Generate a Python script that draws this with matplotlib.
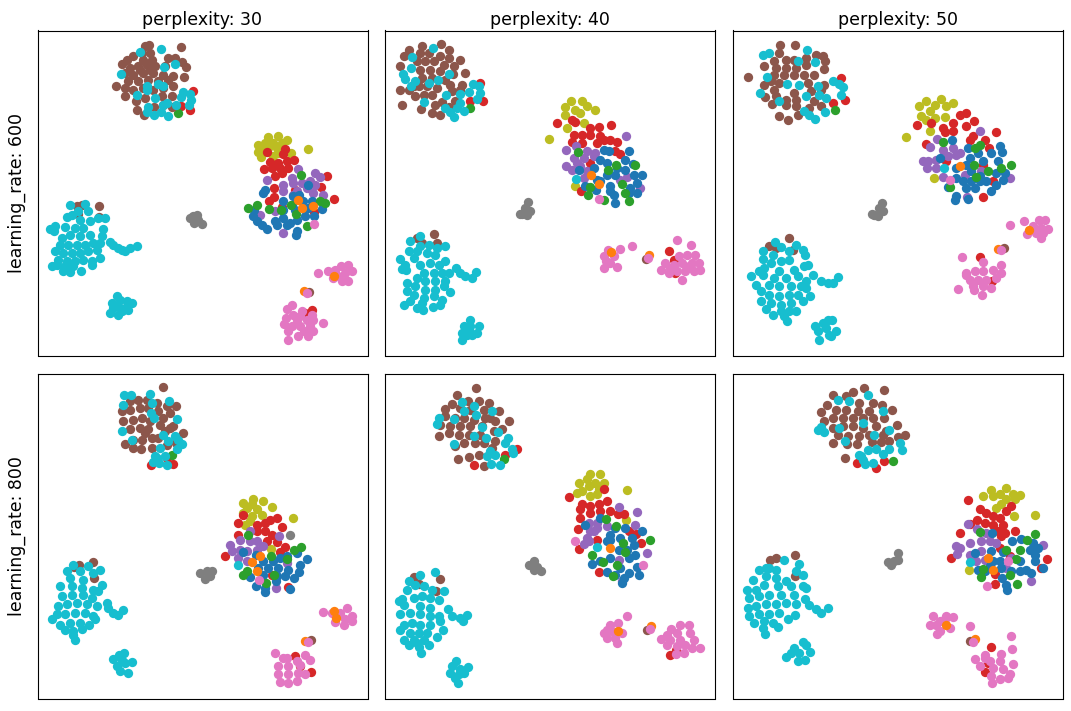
import matplotlib
matplotlib.use('Agg')
import matplotlib.pyplot as plt

# point positions, each panel in its own 0-1000ish frame
perplexities = [30, 40, 50]
learning_rates = [600, 800]

# --- perplexity 30, learning rate 600 ---
p1_olive = [(715,338),(745,335),(772,347),(685,360),(705,355),(730,355),(683,383),(692,397),(715,370),(740,370),(755,355),(782,385),(730,395),(725,405),(835,372),(700,380),(745,385)]
p1_red = [(712,383),(765,373),(758,388),(792,407),(770,410),(745,415),(720,412),(703,432),(725,430),(750,430),(775,430),(735,455),(755,445),(890,455),(873,488),(911,524),(733,491),(731,517),(717,530),(755,548),(852,562),(795,495),(488,198),(480,255),(452,245),(845,855),(825,865)]
p1_purple = [(803,432),(710,465),(855,445),(870,458),(785,460),(760,480),(790,475),(815,475),(840,470),(760,500),(800,500),(830,490),(855,480),(850,505),(878,512),(760,625),(790,510),(735,560),(690,572)]
p1_blue = [(705,495),(700,505),(835,482),(790,515),(808,510),(760,530),(785,540),(820,530),(845,530),(875,552),(672,555),(670,575),(680,590),(695,600),(710,613),(735,590),(760,580),(780,595),(800,585),(825,575),(852,575),(740,600),(770,600),(800,620),(798,630),(760,555),(795,555),(835,550)]
p1_green = [(655,550),(682,540),(717,553),(752,555),(782,540),(812,451),(870,530),(885,535),(832,603),(797,568),(445,265)]
p1_brown = [(452,67),(345,65),(358,62),(335,85),(360,85),(310,95),(290,105),(275,117),(340,105),(365,105),(415,100),(435,100),(455,112),(467,128),(300,130),(325,125),(350,120),(375,125),(405,125),(285,145),(310,150),(340,145),(370,145),(400,150),(430,155),(463,158),(295,170),(325,170),(355,165),(385,170),(415,165),(259,183),(285,190),(310,195),(340,190),(370,195),(400,190),(430,185),(285,215),(318,230),(345,220),(395,215),(425,215),(320,255),(372,248),(342,272),(425,248),(400,240),(330,135),(360,135),(155,540),(140,545),(207,544),(207,578),(145,567),(838,803)]
p1_gray = [(490,575),(500,570),(480,580),(492,595),(515,598),(505,585)]
p1_cyan = [(392,73),(272,148),(403,127),(330,82),(435,118),(350,185),(385,178),(398,183),(322,210),(376,220),(350,195),(460,203),(480,208),(453,218),(482,225),(478,242),(438,240),(410,235),(355,248),(352,262),(372,270),(393,262),(413,275),(398,240),
    (120,540),(165,537),(145,560),(175,560),(110,578),(125,570),(225,580),(205,580),(150,585),(180,590),(75,605),(60,612),(105,607),(135,610),(160,610),(220,612),(72,620),(120,630),(150,635),(180,630),(215,635),(95,640),(240,652),(250,660),(265,670),(285,680),(300,670),(320,665),(275,677),(90,660),(115,660),(140,660),(165,660),(190,655),(210,655),(75,680),(100,685),(125,685),(150,685),(175,680),(200,675),(85,705),(110,710),(135,710),(160,705),(185,710),(211,700),(65,725),(80,720),(98,740),(120,742),(153,738),(185,722),(130,725),(105,725),
    (262,815),(245,835),(270,825),(290,830),(305,835),(240,865),(265,870),(265,845),(285,850),(250,850),(295,855),(275,860)]
p1_pink = [(852,597),(865,744),(893,740),(915,735),(932,725),(955,722),(965,740),(945,745),(925,755),(910,760),(935,768),(955,770),(787,840),(770,852),(815,860),(845,870),(790,870),(768,880),(800,885),(830,885),(850,885),(878,895),(762,897),(785,905),(810,905),(840,905),(775,920),(805,935),(835,935),(775,945),(850,918),(822,920),(810,875)]
p1_orange = [(803,527),(815,550),(848,545),(912,755),(822,798)]
p1_pink_top = [(832,805)]

# --- perplexity 40, learning rate 600 ---
p2_olive = [(572,230),(605,228),(555,248),(555,270),(585,255),(620,245),(645,257),(600,265),(610,295),(560,310),(507,343),(583,485)]
p2_red = [(530,295),(575,285),(585,292),(693,300),(655,307),(630,310),(580,332),(605,330),(630,330),(660,335),(575,353),(605,355),(650,355),(690,347),(711,353),(705,380),(720,388),(630,415),(603,498),(670,345),(300,175),(307,230),(270,230),(865,680),(880,705),(885,745)]
p2_purple = [(736,333),(556,375),(588,365),(620,380),(645,385),(580,400),(610,400),(640,395),(557,423),(575,435),(600,425),(610,460),(720,465),(740,458),(780,490),(620,440),(590,415)]
p2_blue = [(670,375),(685,380),(746,380),(660,405),(735,405),(757,418),(597,436),(640,430),(680,415),(710,430),(735,435),(650,465),(680,450),(705,450),(760,450),(784,452),(770,475),(690,485),(700,510),(705,535),(648,495),(615,485),(750,490),(770,505),(745,505),(660,470),(690,500)]
p2_green = [(593,382),(707,421),(682,437),(765,420),(724,478),(628,487),(624,510),(672,527),(747,530),(735,505),(270,250)]
p2_brown = [(182,58),(125,65),(87,77),(205,75),(72,95),(120,85),(145,85),(180,95),(205,100),(240,107),(58,123),(110,110),(135,110),(160,110),(190,120),(222,125),(120,135),(150,135),(180,140),(253,146),(218,148),(125,160),(155,160),(195,165),(245,180),(115,185),(140,185),(170,190),(210,180),(60,195),(85,195),(240,195),(105,215),(130,210),(155,210),(215,200),(65,241),(123,252),(155,265),(180,272),(165,240),(207,246),(225,228),(185,232),(100,185),(162,628),(110,640),(125,655),(170,655),(797,702)]
p2_gray = [(442,533),(435,550),(450,560),(425,568),(440,572),(420,568)]
p2_cyan = [(157,70),(95,98),(93,130),(68,148),(75,162),(92,185),(105,170),(146,176),(172,165),(207,147),(278,178),(295,185),(300,205),(290,222),(265,202),(240,208),(198,210),(130,232),(195,250),(230,250),(220,278),(250,260),(210,262),(240,235),(586,462),
    (120,633),(90,650),(195,665),(145,660),(120,665),(170,670),(85,678),(110,680),(140,685),(165,690),(60,702),(100,700),(195,708),(75,720),(120,720),(150,715),(175,720),(65,732),(78,735),(228,730),(240,745),(255,755),(275,760),(288,742),(205,745),(130,745),(160,745),(185,745),(110,760),(135,770),(165,770),(195,770),(80,775),(105,785),(135,795),(165,795),(190,785),(80,800),(209,803),(100,810),(130,820),(160,815),(185,825),(72,840),(90,830),(110,850),(128,855),(158,847),(178,840),(125,835),
    (268,885),(250,905),(295,903),(270,905),(245,925),(275,930),(290,925),(245,945),(260,930),(265,915)]
p2_pink = [(656,522),(682,675),(720,672),(672,695),(700,695),(670,730),(690,715),(710,728),(678,710),(755,663),(890,647),(931,662),(945,692),(920,690),(895,695),(855,715),(880,720),(905,715),(935,715),(955,715),(842,735),(865,745),(890,740),(915,740),(940,740),(958,735),(905,765),(870,730),(925,725)]
p2_orange = [(632,452),(655,477),(691,681),(805,690)]
p2_pink_top = [(803,700)]

# --- perplexity 50, learning rate 600 ---
p3_olive = [(598,230),(645,222),(680,235),(578,245),(625,240),(660,245),(585,273),(610,260),(625,280),(655,278),(600,285),(610,320),(540,337),(622,460)]
p3_red = [(572,302),(720,266),(700,272),(742,288),(680,295),(650,310),(680,320),(720,305),(655,322),(740,335),(808,323),(600,358),(775,345),(730,345),(787,370),(660,410),(770,518),(615,295),(770,420),(800,470),(344,160),(358,226),(322,235),(760,698),(797,768)]
p3_purple = [(761,318),(633,344),(612,367),(650,375),(680,370),(665,395),(690,390),(590,410),(605,410),(630,405),(603,430),(630,430),(650,458),(717,450),(765,440),(723,517),(852,461),(700,385)]
p3_blue = [(678,345),(725,370),(755,385),(795,385),(820,365),(827,382),(815,410),(640,400),(730,400),(720,420),(690,430),(770,410),(810,445),(835,445),(830,465),(810,480),(795,500),(690,460),(710,470),(735,470),(760,470),(720,490),(745,490),(690,515),(685,525),(665,487),(725,522),(735,440),(760,455),(780,470)]
p3_green = [(651,352),(762,362),(745,370),(855,422),(785,438),(825,430),(748,458),(742,422),(671,487),(328,255)]
p3_brown = [(65,156),(162,60),(207,60),(160,85),(240,100),(270,90),(290,95),(298,108),(145,110),(180,105),(205,105),(115,125),(150,130),(180,130),(210,130),(240,120),(265,150),(293,133),(145,150),(175,150),(205,150),(235,150),(115,180),(135,170),(160,175),(245,175),(295,180),(145,195),(205,205),(255,200),(118,218),(150,215),(180,225),(210,225),(285,195),(265,228),(138,238),(180,240),(210,245),(250,250),(285,245),(158,275),(187,287),(215,270),(190,640),(128,665),(150,670),(200,677),(832,670)]
p3_gray = [(468,535),(460,550),(472,560),(445,570),(457,573),(438,568)]
p3_cyan = [(110,92),(130,85),(242,75),(267,113),(215,110),(124,158),(183,177),(220,180),(275,185),(102,206),(240,213),(160,230),(300,220),(320,168),(340,178),(352,188),(344,212),(233,260),(250,272),(267,283),(298,263),(280,210),(654,431),
    (147,653),(110,680),(165,668),(210,662),(232,675),(238,692),(140,690),(190,680),(110,703),(165,710),(190,705),(135,715),(245,722),(235,725),(100,738),(115,730),(160,740),(205,735),(75,755),(110,750),(145,760),(180,760),(215,755),(262,750),(285,770),(305,775),(322,775),(335,757),(240,770),(90,782),(130,780),(160,785),(195,785),(225,785),(105,800),(130,810),(160,815),(190,810),(215,810),(252,813),(105,830),(135,835),(165,840),(195,835),(232,830),(120,853),(140,870),(165,860),(190,860),(210,858),(183,890),(175,875),(240,790),
    (305,885),(268,905),(290,895),(318,885),(300,910),(275,920),(330,920),(310,930),(280,945),(315,935)]
p3_pink = [(670,465),(850,602),(893,590),(938,585),(955,587),(920,603),(945,610),(965,612),(903,628),(930,625),(943,640),(950,625),(708,697),(770,712),(825,722),(720,745),(745,740),(770,740),(800,735),(825,745),(730,765),(755,765),(780,765),(810,760),(740,785),(770,785),(795,790),(695,792),(743,797),(768,812),(720,750)]
p3_orange = [(700,425),(908,615),(815,672)]
p3_pink_top = [(825,675)]

# --- perplexity 30, learning rate 800 ---
p4_olive = [(640,405),(700,400),(725,417),(665,410),(680,425),(640,435),(665,445),(695,440),(670,395),(790,450),(646,470),(722,544),(650,420),(660,460)]
p4_red = [(625,464),(625,502),(740,450),(720,455),(755,478),(640,440),(680,470),(705,465),(680,490),(705,490),(725,500),(710,520),(740,523),(765,537),(750,553),(585,565),(725,622),(775,658),(364,292),(428,289),(412,270),(795,865),(843,912),(810,895)]
p4_purple = [(660,488),(748,505),(630,515),(600,530),(605,550),(630,545),(660,520),(680,520),(700,535),(650,550),(680,545),(625,570),(650,580),(770,585),(737,660)]
p4_blue = [(639,553),(678,560),(770,565),(800,555),(830,572),(810,590),(808,612),(700,580),(730,580),(750,570),(685,600),(715,600),(745,600),(775,605),(660,628),(700,620),(740,625),(765,625),(793,630),(678,654),(706,672),(705,660),(780,663),(738,640)]
p4_green = [(814,538),(792,545),(771,572),(732,620),(707,644),(650,610),(638,620),(655,502),(722,565),(426,261)]
p4_brown = [(398,58),(300,100),(325,95),(350,95),(380,105),(410,115),(437,115),(275,130),(300,125),(330,120),(355,120),(385,130),(420,135),(280,160),(310,155),(335,150),(360,160),(400,150),(430,175),(300,185),(330,180),(355,185),(390,170),(420,180),(458,195),(285,230),(310,215),(335,215),(365,210),(405,190),(308,240),(332,245),(365,240),(412,232),(437,225),(345,195),(385,210),(190,582),(148,590),(132,597),(192,630),(842,816)]
p4_gray = [(510,615),(530,610),(545,610),(525,632),(540,625),(780,502)]
p4_cyan = [(283,80),(302,80),(361,78),(417,100),(278,110),(365,105),(362,135),(372,150),(442,152),(275,190),(305,215),(398,202),(415,218),(435,205),(455,230),(440,245),(390,240),(405,265),(380,270),(370,282),(388,285),(410,292),(375,265),(445,215),(623,591),
    (130,590),(175,595),(210,605),(110,610),(150,610),(190,615),(120,630),(160,635),(215,650),(205,668),(90,655),(125,655),(155,660),(190,665),(95,684),(125,680),(160,680),(185,690),(230,705),(235,720),(250,735),(265,742),(280,727),(85,715),(110,710),(140,705),(170,710),(200,715),(80,740),(105,740),(135,735),(165,735),(190,745),(65,753),(90,770),(120,765),(150,765),(178,770),(105,785),(130,790),(155,783),(135,815),(130,800),(195,755),
    (283,855),(268,860),(250,873),(305,883),(260,895),(285,885),(295,915),(270,910),(275,875)]
p4_pink = [(688,635),(878,734),(905,735),(950,720),(965,745),(930,735),(945,755),(965,760),(915,762),(942,770),(736,854),(770,870),(825,860),(800,880),(840,875),(745,895),(775,895),(810,890),(745,920),(775,920),(805,915),(825,920),(750,943),(775,945),(800,940),(760,870)]
p4_orange = [(666,582),(690,565),(680,610),(918,752),(912,730),(825,820)]
p4_pink_top = [(833,822)]

# --- perplexity 40, learning rate 800 ---
p5_olive = [(630,320),(660,320),(597,345),(620,335),(645,345),(672,345),(605,370),(590,376),(630,385),(650,380),(655,365),(739,367),(737,456),(625,355)]
p5_red = [(565,387),(670,365),(605,410),(630,415),(655,410),(680,400),(600,425),(630,435),(660,430),(690,430),(732,437),(598,449),(592,483),(596,544),(655,611),(767,497),(782,525),(745,490),(712,438),(650,515),(411,243),(373,262),(281,291),(868,862),(887,847)]
p5_purple = [(717,418),(769,433),(764,471),(625,465),(650,465),(640,490),(620,510),(612,528),(625,520),(650,480),(680,475),(715,575),(800,555),(725,640),(630,490)]
p5_blue = [(614,470),(784,490),(660,450),(705,480),(735,480),(690,500),(720,510),(680,520),(760,530),(740,545),(715,545),(765,560),(745,570),(690,570),(660,580),(636,587),(680,612),(705,620),(730,630),(745,615),(770,598),(776,621),(725,645),(690,515),(720,600),(755,510)]
p5_green = [(678,453),(707,474),(809,517),(735,553),(635,561),(667,581),(711,590),(698,625),(728,525),(371,274)]
p5_brown = [(286,59),(231,82),(216,108),(262,98),(297,100),(327,105),(195,122),(240,120),(270,125),(310,125),(357,128),(385,160),(195,145),(225,150),(250,150),(280,155),(315,150),(345,160),(178,172),(210,175),(240,175),(270,175),(305,175),(365,185),(175,205),(205,195),(235,200),(265,200),(300,200),(340,190),(225,235),(250,225),(285,225),(312,225),(345,220),(233,275),(265,268),(295,262),(310,296),(335,240),(330,150),(178,633),(100,628),(115,648),(168,670),(800,785)]
p5_gray = [(462,580),(445,590),(460,605),(482,610),(470,598)]
p5_cyan = [(244,102),(282,115),(287,142),(334,128),(175,150),(170,168),(220,152),(305,178),(352,193),(280,205),(318,210),(222,230),(382,210),(375,225),(395,245),(397,255),(330,250),(345,262),(320,265),(333,288),(360,292),(250,128),(649,537),
    (163,612),(120,620),(85,640),(80,665),(105,650),(130,655),(155,665),(190,668),(65,693),(55,700),(100,690),(125,685),(150,690),(70,712),(175,695),(120,715),(150,720),(203,723),(215,745),(240,752),(260,742),(247,760),(60,740),(90,735),(120,740),(150,745),(175,745),(70,770),(95,765),(120,770),(150,770),(178,760),(60,785),(88,795),(115,795),(140,795),(187,786),(70,815),(100,815),(130,815),(170,806),(85,830),(115,838),(147,830),(123,855),(110,825),
    (228,880),(215,895),(262,897),(240,905),(210,915),(235,920),(250,915),(225,930),(232,945)]
p5_pink = [(584,519),(788,591),(740,745),(712,765),(680,785),(670,795),(695,790),(725,795),(680,810),(705,810),(710,825),(690,770),(925,770),(900,772),(872,782),(860,800),(890,795),(930,795),(842,812),(870,815),(900,815),(940,815),(860,830),(890,835),(935,840),(958,841),(910,856),(888,858),(915,830)]
p5_orange = [(690,540),(812,775),(712,790)]
p5_pink_top = [(810,784)]

# --- perplexity 50, learning rate 800 ---
p6_olive = [(838,360),(795,368),(770,385),(860,380),(880,382),(820,380),(840,395),(865,395),(825,410),(808,422),(862,443),(925,440),(728,607),(800,385)]
p6_red = [(724,398),(760,425),(780,435),(855,415),(840,430),(800,445),(820,450),(775,465),(800,470),(830,470),(815,490),(835,495),(865,488),(752,455),(731,467),(700,496),(825,505),(675,570),(963,573),(945,601),(805,619),(806,647),(850,565),(820,540),(392,285),(474,281),(451,301),(795,836),(775,912),(785,885)]
p6_purple = [(724,467),(752,483),(780,495),(730,525),(765,520),(790,520),(810,525),(690,533),(700,540),(692,558),(730,560),(765,550),(775,575),(840,600),(915,640),(950,532),(855,570),(750,580)]
p6_blue = [(797,495),(857,520),(884,513),(920,525),(935,540),(910,545),(925,560),(925,580),(795,550),(830,553),(745,555),(800,580),(820,580),(880,580),(855,610),(880,610),(900,605),(790,595),(825,600),(755,605),(828,629),(838,650),(842,665),(950,600),(915,615),(775,610)]
p6_green = [(925,497),(903,515),(880,545),(840,545),(868,572),(770,603),(765,628),(873,647),(760,493),(850,620),(500,281)]
p6_brown = [(414,59),(473,65),(321,80),(381,72),(360,85),(302,112),(400,105),(440,105),(467,110),(285,132),(330,125),(360,125),(395,130),(430,130),(497,126),(295,160),(320,150),(350,150),(380,150),(410,150),(440,150),(475,150),(320,180),(350,175),(380,175),(410,180),(450,175),(513,172),(335,200),(365,205),(400,205),(430,200),(470,200),(515,208),(536,201),(320,224),(362,230),(392,230),(437,222),(465,222),(490,220),(357,271),(480,190),(207,561),(150,570),(133,575),(207,623),(730,820)]
p6_gray = [(515,555),(485,583),(505,580),(495,590),(515,575)]
p6_cyan = [(426,82),(335,97),(368,100),(470,129),(340,180),(411,165),(275,188),(295,192),(285,178),(489,188),(358,218),(445,202),(520,225),(528,248),(490,245),(425,248),(450,245),(470,260),(400,262),(410,278),(418,290),(440,285),(405,265),(730,581),
    (130,600),(175,575),(218,588),(100,607),(120,600),(150,605),(230,620),(210,610),(120,625),(150,630),(180,640),(80,636),(63,667),(90,665),(115,650),(155,655),(195,655),(240,660),(230,655),(70,690),(100,685),(130,680),(165,680),(205,680),(238,692),(250,712),(270,725),(285,735),(305,722),(210,710),(65,722),(90,715),(120,710),(150,710),(180,705),(70,745),(100,740),(130,740),(160,735),(185,755),(208,743),(85,765),(115,760),(140,765),(157,778),(118,797),(110,780),
    (230,822),(240,830),(205,840),(180,866),(195,855),(220,855),(252,853),(215,878),(237,875)]
p6_pink = [(781,654),(845,580),(620,745),(680,748),(655,755),(610,772),(630,770),(640,790),(632,797),(670,780),(660,745),(640,760),(731,775),(853,804),(856,843),(775,860),(825,858),(745,872),(790,880),(820,880),(860,888),(760,895),(800,900),(830,905),(850,920),(795,925),(820,935),(798,945),(845,930),(775,870)]
p6_orange = [(785,570),(800,605),(660,770),(745,812)]
p6_pink_top = [(740,822)]

# draw order matters, later groups sit on top
colors = ['tab:olive', 'tab:red', 'tab:purple', 'tab:blue', 'tab:green', 'tab:brown',
          'tab:gray', 'tab:cyan', 'tab:pink', 'tab:orange', 'tab:pink']
panels = [
    (p1_olive, p1_red, p1_purple, p1_blue, p1_green, p1_brown, p1_gray, p1_cyan, p1_pink, p1_orange, p1_pink_top),
    (p2_olive, p2_red, p2_purple, p2_blue, p2_green, p2_brown, p2_gray, p2_cyan, p2_pink, p2_orange, p2_pink_top),
    (p3_olive, p3_red, p3_purple, p3_blue, p3_green, p3_brown, p3_gray, p3_cyan, p3_pink, p3_orange, p3_pink_top),
    (p4_olive, p4_red, p4_purple, p4_blue, p4_green, p4_brown, p4_gray, p4_cyan, p4_pink, p4_orange, p4_pink_top),
    (p5_olive, p5_red, p5_purple, p5_blue, p5_green, p5_brown, p5_gray, p5_cyan, p5_pink, p5_orange, p5_pink_top),
    (p6_olive, p6_red, p6_purple, p6_blue, p6_green, p6_brown, p6_gray, p6_cyan, p6_pink, p6_orange, p6_pink_top),
]

W, H = 1071, 711
fig = plt.figure(figsize=(W / 100, H / 100), dpi=100)

lefts = [37.5, 384.5, 732.5]
rights = [367.5, 714.5, 1062.5]
tops = [30.5, 373.5]
bottoms = [355.5, 698.5]
x_frames = [(22, 1013), (13, 1003), (20, 1008)]

for i, groups in enumerate(panels):
    row, col = i // 3, i % 3
    ax = fig.add_axes([lefts[col] / W, 1 - bottoms[row] / H,
                       (rights[col] - lefts[col]) / W, (bottoms[row] - tops[row]) / H])
    for pts, c in zip(groups, colors):
        xs = [p[0] for p in pts]
        ys = [p[1] for p in pts]
        ax.scatter(xs, ys, s=45, c=c, linewidths=0)
    ax.set_xlim(*x_frames[col])
    ax.set_ylim(992, 17)
    ax.set_xticks([])
    ax.set_yticks([])
    if row == 0:
        ax.set_title('perplexity: %d' % perplexities[col], fontsize=12.5, pad=4)
    if col == 0:
        ax.set_ylabel('learning_rate: %d' % learning_rates[row], fontsize=12.5, labelpad=8)

fig.savefig('out.png', dpi=100)
